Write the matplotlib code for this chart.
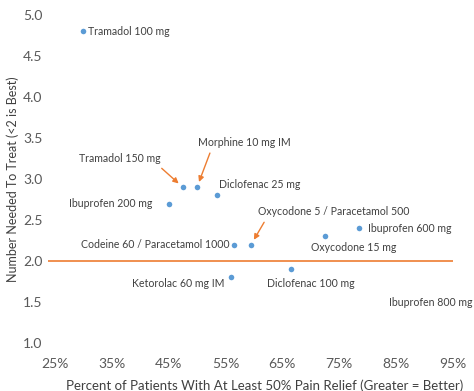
import matplotlib
matplotlib.use("Agg")
import matplotlib.pyplot as plt
from matplotlib.ticker import PercentFormatter, FormatStrFormatter

plt.rcParams["font.family"] = ["Lato", "DejaVu Sans"]

# drug label, % patients with >=50% relief, NNT
drugs = ["Tramadol 100 mg", "Tramadol 150 mg", "Morphine 10 mg IM", "Diclofenac 25 mg",
         "Ibuprofen 200 mg", "Codeine 60 / Paracetamol 1000", "Ketorolac 60 mg IM",
         "Oxycodone 5 / Paracetamol 500", "Oxycodone 15 mg", "Ibuprofen 600 mg",
         "Diclofenac 100 mg", "Ibuprofen 800 mg"]
relief = [0.30, 0.475, 0.50, 0.535, 0.45, 0.565, 0.56, 0.595, 0.725, 0.785, 0.665, 1.00]
nnt = [4.8, 2.9, 2.9, 2.8, 2.7, 2.2, 1.8, 2.2, 2.3, 2.4, 1.9, 1.6]

# label placement: offset in pixels from the point, alignment, arrow?
label_off = [(5, 0), (-63, 29), (1, 45), (2, 11), (-16, 0), (-5, 0), (-7, -6),
             (7, 33), (29, -11), (9, 0), (20, -14), (-51, -9)]
label_ha = ["left", "center", "left", "left", "right", "right", "right",
            "left", "center", "left", "center", "center"]
arrow_rel = {1: (0.95, 0.0), 2: (0.15, 0.0), 7: (0.06, 0.0)}

target = 2.0
xticks = [0.25, 0.35, 0.45, 0.55, 0.65, 0.75, 0.85, 0.95]
yticks = [1.0, 1.5, 2.0, 2.5, 3.0, 3.5, 4.0, 4.5, 5.0]

blue = "#5B9BD5"
orange = "#ED7D31"
txt = "#404040"

fig = plt.figure(figsize=(4.74, 3.91), dpi=100)
ax = fig.add_axes([48 / 474, 1 - 343 / 391, 405 / 474, 328 / 391])

ax.scatter(relief, nnt, s=16, color=blue, zorder=3, linewidths=0)
ax.axhline(target, color=orange, lw=1.2, zorder=2)

for i, name in enumerate(drugs):
    dx, dy = label_off[i]
    kw = {}
    if i in arrow_rel:
        kw["arrowprops"] = dict(arrowstyle="-|>", color=orange, lw=1.0,
                                mutation_scale=8, relpos=arrow_rel[i],
                                shrinkA=2, shrinkB=4)
    ax.annotate(name, (relief[i], nnt[i]), xytext=(dx, dy),
                textcoords="offset pixels", ha=label_ha[i], va="center",
                fontsize=7.6, color=txt, annotation_clip=False, **kw)

ax.set_xlim(0.238, 0.95)
ax.set_ylim(1.0, 5.0)
ax.set_xticks(xticks)
ax.set_yticks(yticks)
ax.xaxis.set_major_formatter(PercentFormatter(1.0, decimals=0))
ax.yaxis.set_major_formatter(FormatStrFormatter("%.1f"))
ax.tick_params(length=0, labelsize=10, colors="#595959")
ax.tick_params(axis="x", pad=11)
ax.tick_params(axis="y", pad=4)
for s in ax.spines.values():
    s.set_visible(False)

ax.set_xlabel("Percent of Patients With At Least 50% Pain Relief (Greater = Better)",
              fontsize=9.5, color=txt)
ax.xaxis.set_label_coords(0.535, -0.13)
ax.xaxis.label.set_va("center")
ax.set_ylabel("Number Needed To Treat (<2 is Best)", fontsize=9, color=txt)
ax.yaxis.set_label_coords(-0.087, 0.5)
ax.yaxis.label.set_va("center")

fig.savefig("out.png", dpi=100)
